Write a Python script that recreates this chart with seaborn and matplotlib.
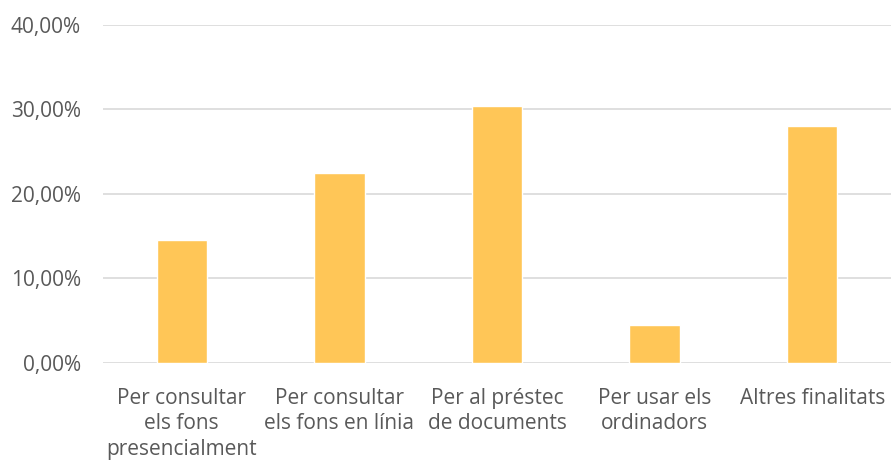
import pandas as pd
import matplotlib.pyplot as plt
import matplotlib.ticker as mticker
import seaborn as sns

categories = ['Per consultar\nels fons\npresencialment',
              'Per consultar\nels fons en línia',
              'Per al préstec\nde documents',
              'Per usar els\nordinadors',
              'Altres finalitats']
values = [14.6, 22.5, 30.4, 4.5, 28.1]

df = pd.DataFrame({'cat': categories, 'val': values})

sns.set_style('white')
plt.rcParams['font.family'] = ['Open Sans', 'DejaVu Sans']

fig = plt.figure(figsize=(8.91, 4.63), dpi=100)
ax = fig.add_axes([0.1156, 0.216, 0.8844, 0.730])

sns.barplot(data=df, x='cat', y='val', color='#FFC657', saturation=1, width=0.32, ax=ax)

ax.set_ylim(0, 40)
ax.set_yticks([0, 10, 20, 30, 40])
ax.yaxis.set_major_formatter(mticker.FuncFormatter(lambda v, p: f'{v:.2f}%'.replace('.', ',')))
ax.grid(axis='y', color='#D9D9D9', linewidth=1.2)
ax.set_axisbelow(True)
for s in ax.spines.values():
    s.set_visible(False)
ax.tick_params(axis='both', length=0, labelsize=15, labelcolor='#595959')
ax.tick_params(axis='y', pad=16)
ax.tick_params(axis='x', pad=18)
for lbl in ax.get_xticklabels():
    lbl.set_linespacing(1.27)
ax.set_xlabel('')
ax.set_ylabel('')

plt.savefig('out.png', dpi=100)
